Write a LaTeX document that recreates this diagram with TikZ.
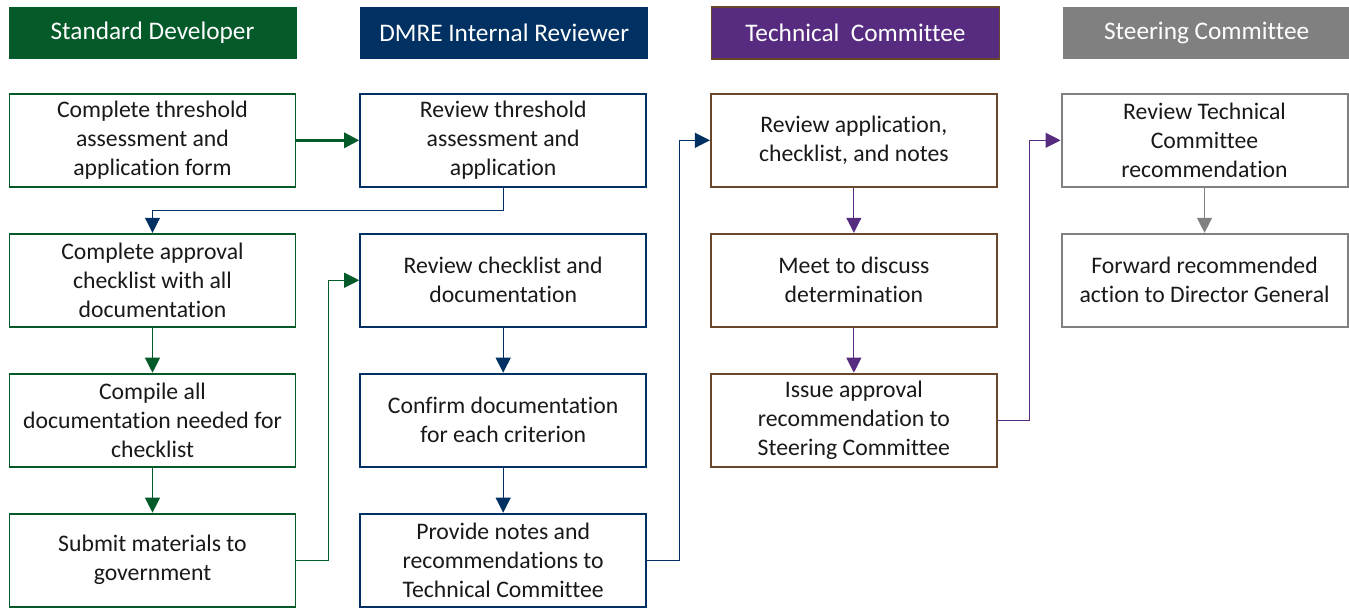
\documentclass[tikz,border=0pt]{standalone}
\usepackage{fontspec}
\setmainfont[Ligatures=NoCommon]{Carlito}
\usepackage{xcolor}
\usepackage{tikz}
\usetikzlibrary{arrows.meta, positioning}
\definecolor{devGreen}{RGB}{5, 90, 42}
\definecolor{dmreNavy}{RGB}{0, 49, 98}
\definecolor{tcPurple}{RGB}{87, 44, 128}
\definecolor{tcBrown}{RGB}{106, 70, 42}
\definecolor{scGray}{RGB}{128, 128, 128}

\begin{document}
\begin{tikzpicture}[
  node distance=0.9cm and 1.255cm,
  header/.style={rectangle, minimum width=5.76cm, minimum height=1.04cm, text=white, inner sep=0pt, font=\fontsize{14.4}{17}\selectfont},
  stepbox/.style={rectangle, draw, line width=1.1pt, fill=white, minimum width=5.72cm, minimum height=1.86cm, align=center, inner sep=0pt, text=black!90, font=\fontsize{13.5}{16.6}\selectfont},
  line/.style={draw, line width=0.6pt, -{Triangle[length=0.3cm, width=0.3cm]}}
]
  \useasboundingbox (0,0) rectangle (26.98,12.14);

  % lane headers
  \node[header, fill=devGreen] (hdev) at (3.05,11.48) {Standard Developer};
  \node[header, fill=dmreNavy, right=1.26cm of hdev] (hrev) {DMRE Internal Reviewer};
  \node[header, fill=tcPurple, draw=tcBrown, line width=1pt, right=1.24cm of hrev] (htc) {Technical~ Committee};
  \node[header, fill=scGray, right=1.24cm of htc] (hsc) {Steering Committee};

  % Standard Developer
  \node[stepbox, draw=devGreen, below=0.67cm of hdev] (dev1) {Complete threshold\\assessment and\\application form};
  \node[stepbox, draw=devGreen, below=of dev1] (dev2) {Complete approval\\checklist with all\\documentation};
  \node[stepbox, draw=devGreen, below=of dev2] (dev3) {Compile all\\documentation needed for\\checklist};
  \node[stepbox, draw=devGreen, below=of dev3] (dev4) {Submit materials to\\government};

  % DMRE Internal Reviewer
  \node[stepbox, draw=dmreNavy, right=of dev1] (rev1) {Review threshold\\assessment and\\application};
  \node[stepbox, draw=dmreNavy, right=of dev2] (rev2) {Review checklist and\\documentation};
  \node[stepbox, draw=dmreNavy, right=of dev3] (rev3) {Confirm documentation\\for each criterion};
  \node[stepbox, draw=dmreNavy, right=of dev4] (rev4) {Provide notes and\\recommendations to\\Technical Committee};

  % Technical Committee
  \node[stepbox, draw=tcBrown, right=of rev1] (tc1) {Review application,\\checklist, and notes};
  \node[stepbox, draw=tcBrown, right=of rev2] (tc2) {Meet to discuss\\determination};
  \node[stepbox, draw=tcBrown, right=of rev3] (tc3) {Issue approval\\recommendation to\\Steering Committee};

  % Steering Committee
  \node[stepbox, draw=scGray, right=of tc1] (sc1) {Review Technical\\Committee\\recommendation};
  \node[stepbox, draw=scGray, right=of tc2] (sc2) {Forward recommended\\action to Director General};

  \path[line, draw=devGreen, line width=1.7pt] (dev1) -- (rev1);
  \path[line, draw=dmreNavy] (rev1.south) -- ++(0,-0.46) -| (dev2.north);
  \path[line, draw=devGreen] (dev2) -- (dev3);
  \path[line, draw=devGreen] (dev3) -- (dev4);
  \path[line, draw=devGreen] (dev4.east) -- ++(0.64,0) |- (rev2.west);
  \path[line, draw=dmreNavy] (rev2) -- (rev3);
  \path[line, draw=dmreNavy] (rev3) -- (rev4);
  \path[line, draw=dmreNavy] (rev4.east) -- ++(0.64,0) |- (tc1.west);
  \path[line, draw=tcPurple] (tc1) -- (tc2);
  \path[line, draw=tcPurple] (tc2) -- (tc3);
  \path[line, draw=tcPurple] (tc3.east) -- ++(0.64,0) |- (sc1.west);
  \path[line, draw=scGray] (sc1) -- (sc2);
\end{tikzpicture}
\end{document}
